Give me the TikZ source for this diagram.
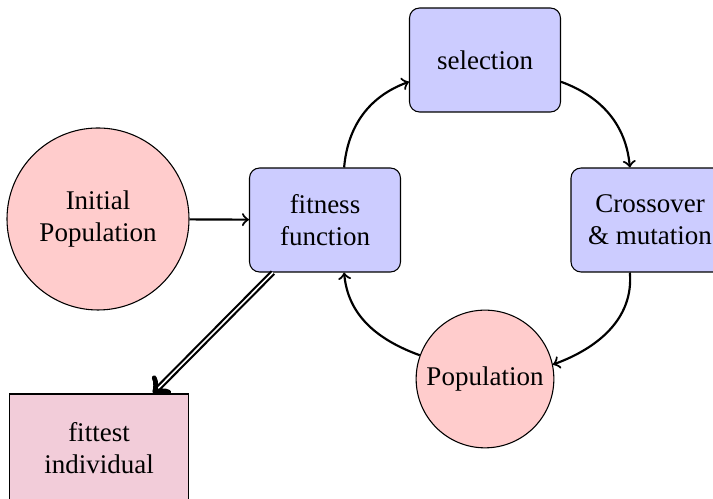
\documentclass[tikz,border=0pt]{standalone}
\usepackage{fontspec}
\setmainfont{Liberation Serif}
\begin{document}
\begin{tikzpicture}[x=.01302cm,y=-.01302cm,line width=.8pt,
  every node/.style={align=center,inner sep=2pt,line width=.4pt},
  block/.style={draw,fill=blue!20,rounded corners=3.7pt,minimum width=55.9pt,minimum height=38.5pt},
  pop/.style={draw,circle,fill=red!20}]
  \path[use as bounding box] (0,0) rectangle (713,499);
  \node[pop,minimum size=67.4pt] (ini) at (98,219) {Initial\\Population};
  \node[block] (fit) at (325,220) {fitness\\function};
  \node[block] (sel) at (485,60) {selection};
  \node[block,minimum width=58.5pt] (cro) at (650,220) {Crossover\\\& mutation};
  \node[pop,minimum size=51pt] (pop) at (485,379) {Population};
  \node[draw,fill=purple!20,minimum width=66pt,minimum height=40pt] (fitt) at (99,448) {fittest\\individual};
  \draw[->] (ini) -- (fit);
  \draw[->] (fit.70) to[out=85,in=200] (sel.196);
  \draw[->] (sel.-16) to[out=-20,in=95] (cro.111);
  \draw[->] (cro.249) to[out=-85,in=20] (pop.12);
  \draw[->] (pop.160) to[out=160,in=-85] (fit.290);
  \draw[->,double] (fit) -- (fitt);
\end{tikzpicture}
\end{document}
